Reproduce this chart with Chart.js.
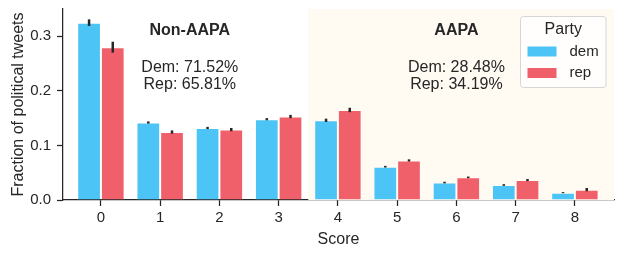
<!DOCTYPE html>
<html>
<head>
<meta charset="utf-8">
<script src="https://cdn.jsdelivr.net/npm/chart.js@4"></script>
<style>
  html, body { margin: 0; padding: 0; background: #fff; }
  #wrap { width: 623px; height: 256px; }
</style>
</head>
<body>
<div id="wrap"><canvas id="chart"></canvas></div>
<script>
// Score categories and per-party fractions
const scores = ['0', '1', '2', '3', '4', '5', '6', '7', '8'];
const demValues = [0.325, 0.142, 0.132, 0.148, 0.146, 0.061, 0.032, 0.0275, 0.0135];
const repValues = [0.280, 0.1245, 0.129, 0.153, 0.165, 0.0725, 0.0415, 0.0365, 0.019];
const demErr = [0.006, 0.002, 0.002, 0.002, 0.003, 0.0015, 0.0015, 0.0015, 0.001];
const repErr = [0.010, 0.003, 0.003, 0.003, 0.004, 0.002, 0.0015, 0.002, 0.003];
const yTicks = [0, 0.1, 0.2, 0.3];

// Annotation text for the two score groups
const groups = [
  { title: 'Non-AAPA', lines: ['Dem: 71.52%', 'Rep: 65.81%'], x: 1.5 },
  { title: 'AAPA', lines: ['Dem: 28.48%', 'Rep: 34.19%'], x: 6 },
];
const aapaStart = 3.5;

const DEM = '#4cc4f5';
const REP = '#f0606a';
const INK = '#262626';
const FONT = '"Liberation Sans", Arial, sans-serif';

// Cream background behind AAPA scores
const shadePlugin = {
  id: 'shade',
  beforeDatasetsDraw(chart) {
    const { ctx, chartArea, scales } = chart;
    const x0 = scales.x.getPixelForValue(aapaStart);
    ctx.save();
    ctx.fillStyle = '#fffaf2';
    ctx.fillRect(x0, chartArea.top, chartArea.right - x0, chartArea.bottom - chartArea.top);
    ctx.restore();
  },
};

// Error bars on top of each bar
const errorBarPlugin = {
  id: 'errorBars',
  afterDatasetsDraw(chart) {
    const { ctx, scales } = chart;
    const errs = [demErr, repErr];
    ctx.save();
    ctx.strokeStyle = INK;
    ctx.lineWidth = 2.5;
    chart.data.datasets.forEach((ds, di) => {
      const meta = chart.getDatasetMeta(di);
      meta.data.forEach((bar, i) => {
        const v = ds.data[i].y;
        const e = errs[di][i];
        ctx.beginPath();
        ctx.moveTo(bar.x, scales.y.getPixelForValue(v - e));
        ctx.lineTo(bar.x, scales.y.getPixelForValue(v + e));
        ctx.stroke();
      });
    });
    ctx.restore();
  },
};

// Group labels + legend box
const annotatePlugin = {
  id: 'annotate',
  afterDraw(chart) {
    const { ctx, chartArea, scales } = chart;
    ctx.save();
    ctx.fillStyle = INK;
    ctx.textAlign = 'center';
    ctx.textBaseline = 'middle';
    groups.forEach((g) => {
      const x = scales.x.getPixelForValue(g.x);
      ctx.font = 'bold 16px ' + FONT;
      ctx.fillText(g.title, x, scales.y.getPixelForValue(0.311));
      ctx.font = '16px ' + FONT;
      ctx.fillText(g.lines[0], x, scales.y.getPixelForValue(0.242));
      ctx.fillText(g.lines[1], x, scales.y.getPixelForValue(0.211));
    });

    // legend
    const bx = chartArea.right - 93.5;
    const by = chartArea.top + 7.5;
    const bw = 85.5;
    const bh = 71;
    ctx.beginPath();
    ctx.roundRect(bx, by, bw, bh, 3);
    ctx.fillStyle = 'rgba(255,255,255,0.8)';
    ctx.fill();
    ctx.strokeStyle = '#d6d6d6';
    ctx.lineWidth = 1;
    ctx.stroke();

    ctx.fillStyle = INK;
    ctx.font = '16px ' + FONT;
    ctx.fillText('Party', bx + bw / 2, by + 13);
    ctx.textAlign = 'left';
    ctx.font = '15px ' + FONT;
    chart.data.datasets.forEach((ds, i) => {
      const cy = by + 35 + i * 21.5;
      ctx.fillStyle = ds.backgroundColor;
      ctx.fillRect(bx + 7, cy - 5, 29, 10);
      ctx.fillStyle = INK;
      ctx.fillText(ds.label, bx + 49, cy);
    });
    ctx.restore();
  },
};

new Chart(document.getElementById('chart'), {
  type: 'bar',
  data: {
    datasets: [
      {
        label: 'dem',
        data: demValues.map((v, i) => ({ x: i, y: v })),
        backgroundColor: DEM,
        borderColor: 'rgba(255,255,255,0.35)',
        borderWidth: 1,
      },
      {
        label: 'rep',
        data: repValues.map((v, i) => ({ x: i, y: v })),
        backgroundColor: REP,
        borderColor: 'rgba(255,255,255,0.35)',
        borderWidth: 1,
      },
    ],
  },
  options: {
    responsive: true,
    maintainAspectRatio: false,
    animation: false,
    events: [],
    categoryPercentage: 0.8,
    barPercentage: 1.0,
    layout: { padding: { top: 9, right: 9, left: 0, bottom: 0 } },
    plugins: {
      legend: { display: false },
      tooltip: { enabled: false },
    },
    scales: {
      x: {
        type: 'linear',
        offset: false,
        min: -0.64,
        max: 8.66,
        afterBuildTicks: (scale) => {
          scale.ticks = scores.map((s, i) => ({ value: i }));
        },
        afterFit: (scale) => {
          scale.height = 56;
          scale.paddingLeft = 0;
          scale.paddingRight = 0;
        },
        grid: {
          display: true,
          offset: false,
          drawOnChartArea: false,
          drawTicks: true,
          tickLength: 6,
          tickColor: INK,
          tickWidth: 1.25,
        },
        border: { display: true, color: INK, width: 1.25 },
        ticks: {
          color: INK,
          font: { family: FONT, size: 15 },
          padding: 3,
          autoSkip: false,
          maxRotation: 0,
          callback: (v) => scores[v],
        },
        title: {
          display: true,
          text: 'Score',
          color: INK,
          font: { family: FONT, size: 16 },
          padding: { top: 0, bottom: 7 },
        },
      },
      y: {
        min: 0,
        max: 0.35,
        afterBuildTicks: (scale) => {
          scale.ticks = yTicks.map((v) => ({ value: v }));
        },
        afterFit: (scale) => {
          scale.width = 63;
          scale.paddingTop = 0;
          scale.paddingBottom = 0;
        },
        grid: {
          display: true,
          drawOnChartArea: false,
          drawTicks: true,
          tickLength: 6,
          tickColor: INK,
          tickWidth: 1.25,
        },
        border: { display: true, color: INK, width: 1.25 },
        ticks: {
          color: INK,
          font: { family: FONT, size: 15 },
          padding: 6,
          callback: (v) => v.toFixed(1),
        },
        title: {
          display: true,
          text: 'Fraction of political tweets',
          color: INK,
          font: { family: FONT, size: 16 },
          padding: { top: 9, bottom: 0 },
        },
      },
    },
  },
  plugins: [shadePlugin, errorBarPlugin, annotatePlugin],
});
</script>
</body>
</html>
